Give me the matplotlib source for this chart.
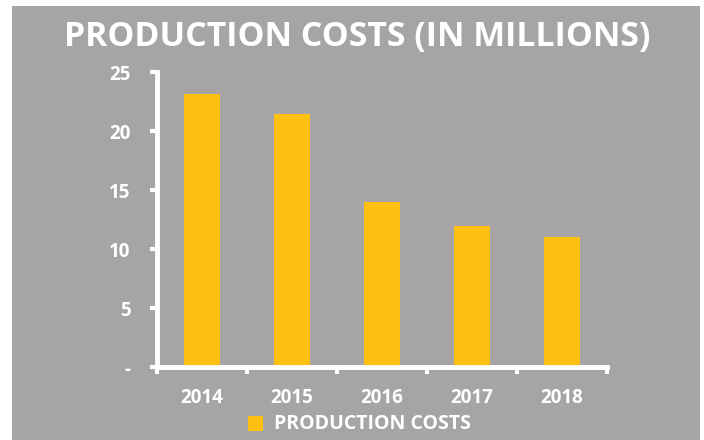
import matplotlib
matplotlib.use("Agg")
from matplotlib import pyplot as plt
from matplotlib.patches import Rectangle

years = ['2014', '2015', '2016', '2017', '2018']
costs = [23.1, 21.4, 14.0, 11.95, 11.05]
yticks = [0, 5, 10, 15, 20, 25]
ytick_labels = ['-', '5', '10', '15', '20', '25']

BG = '#a6a4a5'
BAR = '#fdc010'
W, H = 704, 440

plt.rcParams['font.family'] = ['Open Sans', 'DejaVu Sans']
plt.rcParams['font.weight'] = 'bold'

fig = plt.figure(figsize=(W / 100, H / 100), dpi=100, facecolor='white')
fig.patches.append(Rectangle((12 / W, 0), 688 / W, 434 / H, transform=fig.transFigure,
                             facecolor=BG, edgecolor='none', zorder=-5))

ax = fig.add_axes([157 / W, 1 - 367 / H, 450 / W, 295 / H])
ax.set_zorder(2)
ax.set_facecolor('none')

x = range(len(years))
ax.bar(x, costs, width=0.4, color=BAR, zorder=2)

ax.set_xlim(-0.5, len(years) - 0.5)
ax.set_ylim(0, 25)
ax.set_yticks(yticks)
ax.set_yticklabels(ytick_labels)
ax.set_xticks(list(x))
ax.set_xticklabels(years)
ax.set_xticks([i - 0.5 for i in range(len(years) + 1)], minor=True)

for s in ['top', 'right']:
    ax.spines[s].set_visible(False)
for s in ['left', 'bottom']:
    ax.spines[s].set_color('white')
    ax.spines[s].set_linewidth(3.5)

ax.tick_params(axis='y', colors='white', labelsize=13.5, length=5, width=3, pad=14)
ax.tick_params(axis='x', which='major', length=0, colors='white', labelsize=13.5, pad=15)
ax.tick_params(axis='x', which='minor', length=5, width=3, color='white')
for lbl in ax.get_xticklabels() + ax.get_yticklabels():
    lbl.set_fontweight('bold')

fig.text(357 / W, 1 - 37 / H, 'PRODUCTION COSTS (IN MILLIONS)', color='white',
         fontsize=24.4, fontweight='bold', ha='center', va='center')

fig.patches.append(Rectangle((248 / W, 1 - 431 / H), 15 / W, 15 / H, transform=fig.transFigure,
                             facecolor=BAR, edgecolor='none'))
fig.text(274 / W, 1 - 423.5 / H, 'PRODUCTION COSTS', color='white', fontsize=14,
         fontweight='bold', ha='left', va='center')

fig.savefig('out.png', dpi=100, facecolor=fig.get_facecolor())
